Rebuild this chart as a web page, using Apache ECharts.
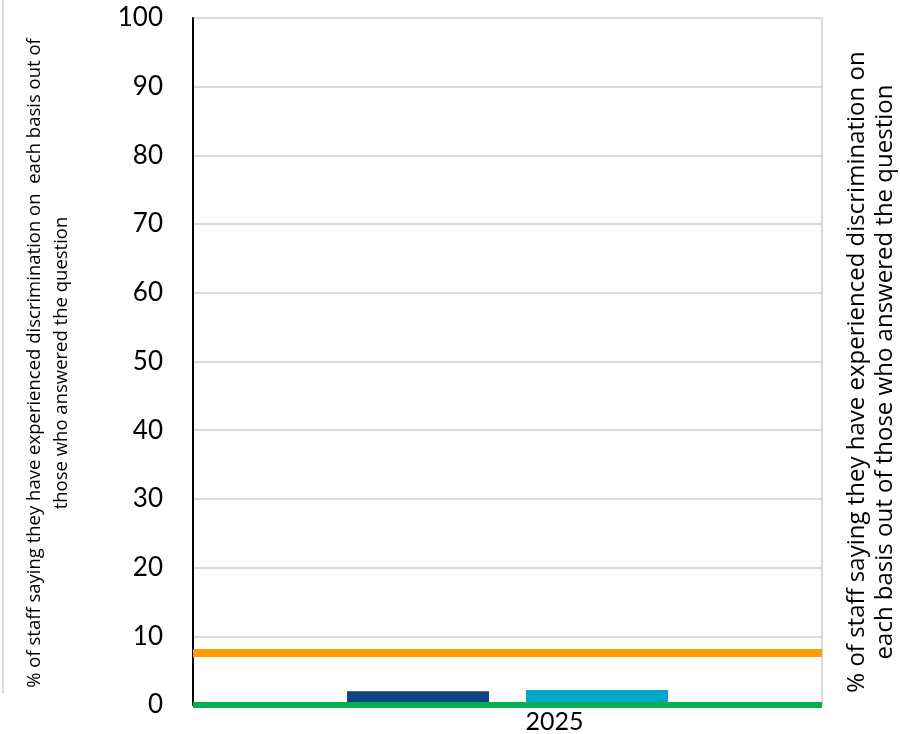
<!DOCTYPE html>
<html>
<head>
<meta charset="utf-8">
<script src="https://cdn.jsdelivr.net/npm/echarts@6/dist/echarts.min.js"></script>
<style>
  html, body { margin: 0; padding: 0; background: #fff; }
  #chart { width: 900px; height: 734px; }
</style>
</head>
<body>
<div id="chart"></div>
<script>
// Survey year shown on the category axis
const years = ['2025'];

// Bar series (% of staff experiencing discrimination on each basis)
const barSeriesNames = ['Basis A', 'Basis B'];
const barValuesA = [2.0];
const barValuesB = [2.2];

// Reference levels drawn as full-width horizontal lines
const lineNames = ['Benchmark', 'Baseline'];
const lineValues = [7.6, 0.1];

// Value axis ticks
const yMin = 0;
const yMax = 100;
const yStep = 10;

const leftTitle = ['% of staff saying they have experienced discrimination on  each basis out of',
                   'those who answered the question'];
const rightTitle = ['% of staff saying they have experienced discrimination on',
                    'each basis out of those who answered the question'];

const FONT = 'Lato, "Open Sans", sans-serif';
const TITLE_FONT = '"Open Sans", sans-serif';
const chart = echarts.init(document.getElementById('chart'), null, { renderer: 'canvas' });

const option = {
  animation: false,
  backgroundColor: '#ffffff',
  grid: { left: 193, right: 78, top: 18, bottom: 29, show: true, borderColor: '#d9d9d9', borderWidth: 2, containLabel: false },
  xAxis: {
    type: 'category',
    data: years,
    axisLine: { show: false },
    axisTick: { show: false },
    axisLabel: { color: '#000', fontFamily: FONT, fontSize: 25, margin: 4, padding: [0, 0, 0, 94] }
  },
  yAxis: [{
    type: 'value',
    min: yMin, max: yMax, interval: yStep,
    axisLine: { show: true, lineStyle: { color: '#000', width: 2 } },
    axisTick: { show: false },
    axisLabel: { color: '#000', fontFamily: FONT, fontSize: 26, margin: 30 },
    splitLine: { show: true, lineStyle: { color: '#d9d9d9', width: 2 } }
  }, {
    type: 'value',
    position: 'right',
    min: yMin, max: yMax, interval: yStep,
    axisLine: { show: false }, axisTick: { show: false },
    axisLabel: { show: false }, splitLine: { show: false }
  }],
  series: [
    {
      name: barSeriesNames[0], type: 'bar', data: barValuesA,
      barWidth: 142, barGap: '26%',
      itemStyle: { color: '#0c4580' }
    },
    {
      name: barSeriesNames[1], type: 'bar', data: barValuesB,
      barWidth: 142, barGap: '26%',
      itemStyle: { color: '#00a5c9' }
    },
    {
      name: lineNames[0], type: 'line', data: [],
      markLine: {
        silent: true, symbol: 'none', label: { show: false },
        lineStyle: { color: '#ff9e00', width: 8, type: 'solid' },
        data: [{ yAxis: lineValues[0] }]
      }
    },
    {
      name: lineNames[1], type: 'line', data: [],
      markLine: {
        silent: true, symbol: 'none', label: { show: false },
        lineStyle: { color: '#00b050', width: 6, type: 'solid' },
        data: [{ yAxis: lineValues[1] }]
      }
    }
  ],
  graphic: [
    // frame edge of the neighbouring panel
    { type: 'line', shape: { x1: 3, y1: 0, x2: 3, y2: 693 }, style: { stroke: '#d9d9d9', lineWidth: 2 } },
    {
      type: 'text', x: 48, y: 363, rotation: Math.PI / 2,
      style: { text: leftTitle.join('\n'), fontFamily: TITLE_FONT, fontSize: 18.5, lineHeight: 27,
               fill: '#000', align: 'center', verticalAlign: 'middle' }
    },
    {
      type: 'text', x: 871, y: 372, rotation: Math.PI / 2,
      style: { text: rightTitle.join('\n'), fontFamily: TITLE_FONT, fontSize: 24, lineHeight: 28,
               fill: '#000', align: 'center', verticalAlign: 'middle' }
    }
  ]
};
chart.setOption(option);
</script>
</body>
</html>
